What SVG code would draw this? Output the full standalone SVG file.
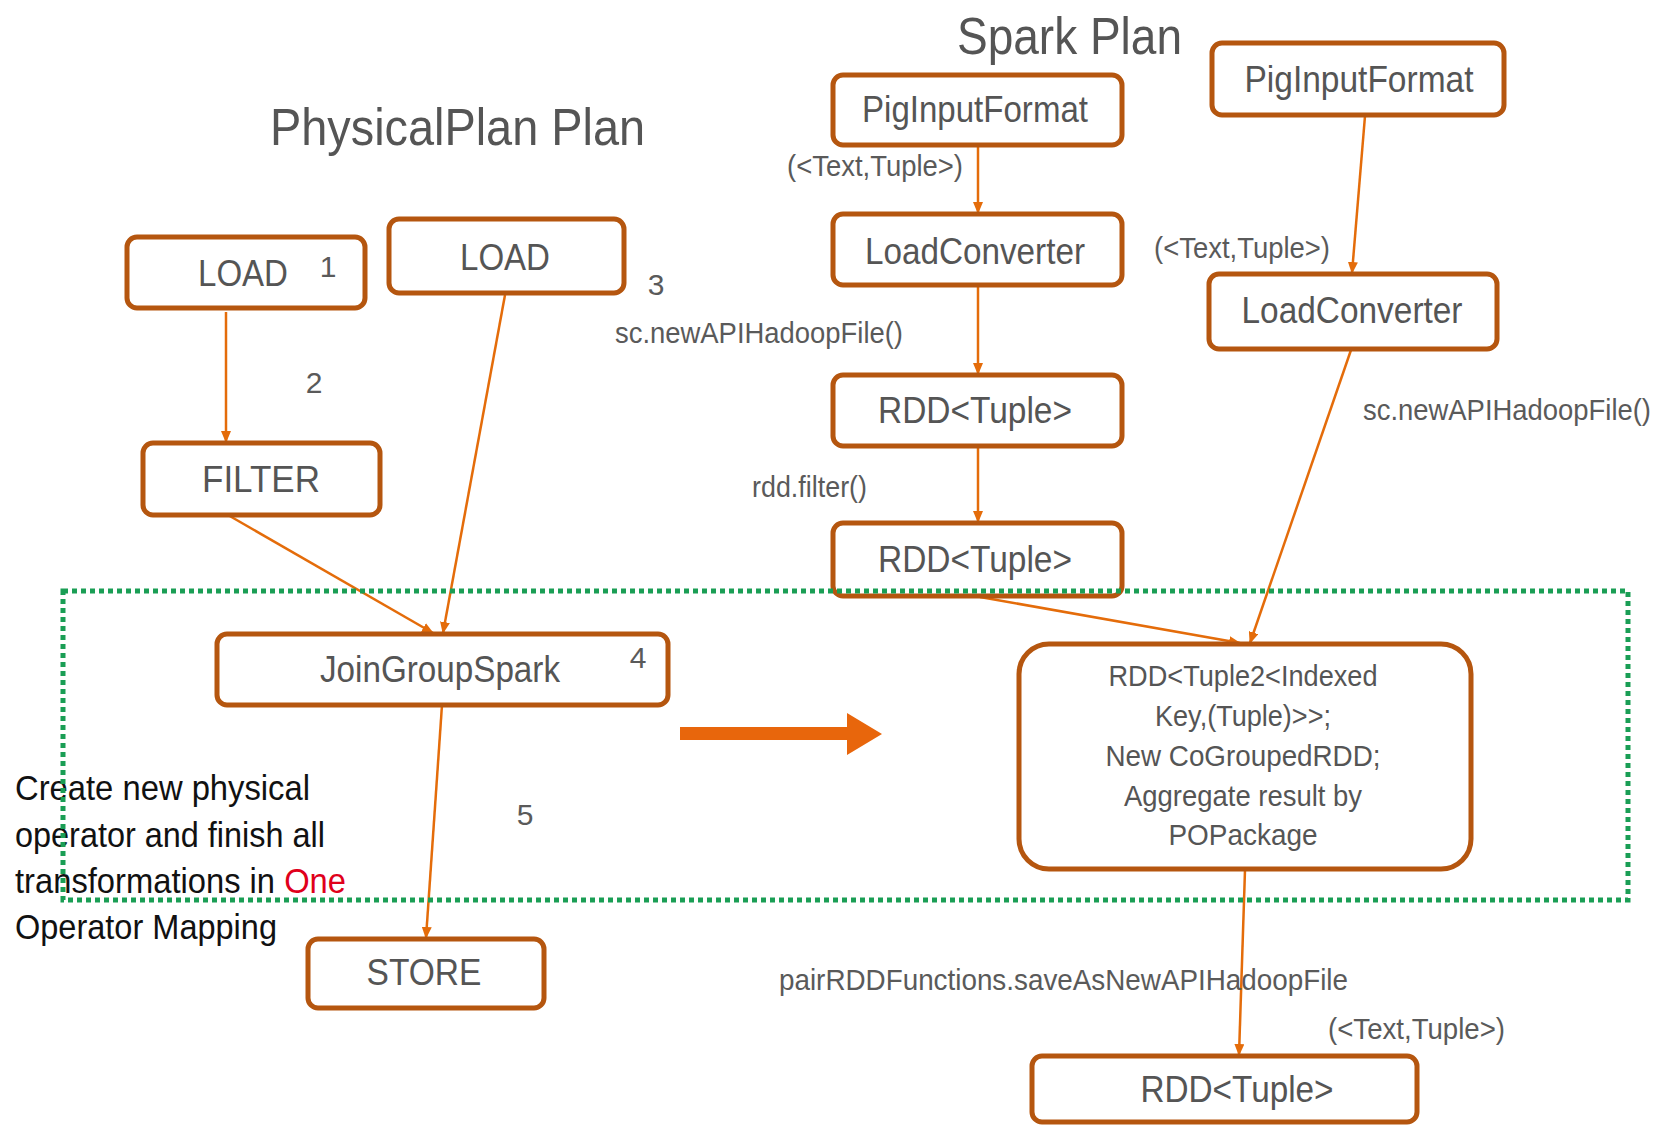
<svg xmlns="http://www.w3.org/2000/svg" width="1658" height="1125" viewBox="0 0 1658 1125">
  <defs>
    <marker id="arr" viewBox="0 0 12 10" refX="11" refY="5" markerWidth="12" markerHeight="10" markerUnits="userSpaceOnUse" orient="auto">
      <path d="M0,0 L12,5 L0,10 z" fill="#e46c0a"/>
    </marker>
    <style>
      text { font-family: "Liberation Sans", Arial, sans-serif; }
      .box { fill: #ffffff; stroke: #b5560f; stroke-width: 5; }
      .lbl { fill: #555555; font-size: 36px; text-anchor: middle; }
      .note { fill: #5a5a5a; font-size: 30px; }
      .num { fill: #5a5a5a; font-size: 30px; text-anchor: middle; }
      .title { fill: #555555; font-size: 52px; }
      .big { fill: #555555; font-size: 29px; text-anchor: middle; }
      .edge { stroke: #e46c0a; stroke-width: 2.5; fill: none; marker-end: url(#arr); }
      .desc { fill: #111111; font-size: 35px; }
    </style>
  </defs>
  <rect width="1658" height="1125" fill="#ffffff"/>

  <!-- titles -->
  <text class="title" x="270" y="145" textLength="375" lengthAdjust="spacingAndGlyphs">PhysicalPlan Plan</text>
  <text class="title" x="957" y="54" font-size="50" textLength="225" lengthAdjust="spacingAndGlyphs">Spark Plan</text>

  <!-- connectors -->
  <g id="connectors">
    <line class="edge" x1="226" y1="312" x2="226" y2="442"/>
    <line class="edge" x1="228" y1="515" x2="433" y2="633"/>
    <line class="edge" x1="505" y1="295" x2="443" y2="633"/>
    <line class="edge" x1="442" y1="705" x2="426" y2="938"/>
    <line class="edge" x1="978" y1="146" x2="978" y2="213"/>
    <line class="edge" x1="978" y1="287" x2="978" y2="374"/>
    <line class="edge" x1="978" y1="448" x2="978" y2="522"/>
    <line class="edge" x1="1365" y1="116" x2="1352" y2="273"/>
    <line class="edge" x1="1351" y1="350" x2="1250" y2="643"/>
    <line class="edge" x1="980" y1="597" x2="1240" y2="643"/>
    <line class="edge" x1="1245" y1="870" x2="1239" y2="1055"/>
    <!-- plan-to-plan mapping arrow -->
    <polygon points="680,727 847,727 847,713 882,734 847,755 847,740 680,740" fill="#e8660c"/>
  </g>

  <!-- physical plan nodes -->
  <g id="load1">
    <rect class="box" x="127" y="237" width="238" height="71" rx="10"/>
    <text class="lbl" x="243" y="286" font-size="38" textLength="90" lengthAdjust="spacingAndGlyphs">LOAD</text>
  </g>
  <g id="load2">
    <rect class="box" x="389" y="219" width="235" height="74" rx="10"/>
    <text class="lbl" x="505" y="270" font-size="38" textLength="90" lengthAdjust="spacingAndGlyphs">LOAD</text>
  </g>
  <g id="filter">
    <rect class="box" x="143" y="443" width="237" height="72" rx="10"/>
    <text class="lbl" x="261" y="492" font-size="38" textLength="118" lengthAdjust="spacingAndGlyphs">FILTER</text>
  </g>
  <g id="joingroupspark">
    <rect class="box" x="217" y="634" width="451" height="71" rx="10"/>
    <text class="lbl" x="440" y="682" textLength="240" lengthAdjust="spacingAndGlyphs">JoinGroupSpark</text>
  </g>
  <g id="store">
    <rect class="box" x="308" y="939" width="236" height="69" rx="10"/>
    <text class="lbl" x="424" y="985" font-size="38" textLength="115" lengthAdjust="spacingAndGlyphs">STORE</text>
  </g>

  <!-- spark plan nodes -->
  <g id="piginput1">
    <rect class="box" x="833" y="75" width="289" height="70" rx="10"/>
    <text class="lbl" x="975" y="122" font-size="35" textLength="226" lengthAdjust="spacingAndGlyphs">PigInputFormat</text>
  </g>
  <g id="loadconv1">
    <rect class="box" x="833" y="214" width="289" height="71" rx="10"/>
    <text class="lbl" x="975" y="264" font-size="35" textLength="220" lengthAdjust="spacingAndGlyphs">LoadConverter</text>
  </g>
  <g id="rdd1">
    <rect class="box" x="833" y="375" width="289" height="71" rx="10"/>
    <text class="lbl" x="975" y="423" font-size="35" textLength="194" lengthAdjust="spacingAndGlyphs">RDD&lt;Tuple&gt;</text>
  </g>
  <g id="rdd2">
    <rect class="box" x="833" y="523" width="289" height="73" rx="10"/>
    <text class="lbl" x="975" y="572" font-size="35" textLength="194" lengthAdjust="spacingAndGlyphs">RDD&lt;Tuple&gt;</text>
  </g>
  <g id="piginput2">
    <rect class="box" x="1212" y="43" width="292" height="72" rx="10"/>
    <text class="lbl" x="1359" y="92" font-size="35" textLength="229" lengthAdjust="spacingAndGlyphs">PigInputFormat</text>
  </g>
  <g id="loadconv2">
    <rect class="box" x="1209" y="274" width="288" height="75" rx="10"/>
    <text class="lbl" x="1352" y="323" font-size="35" textLength="221" lengthAdjust="spacingAndGlyphs">LoadConverter</text>
  </g>
  <g id="cogrouped">
    <rect class="box" x="1019" y="644" width="452" height="225" rx="30"/>
    <text class="big" x="1243" y="686" textLength="269" lengthAdjust="spacingAndGlyphs">RDD&lt;Tuple2&lt;Indexed</text>
    <text class="big" x="1243" y="726" textLength="176" lengthAdjust="spacingAndGlyphs">Key,(Tuple)&gt;&gt;;</text>
    <text class="big" x="1243" y="766" textLength="275" lengthAdjust="spacingAndGlyphs">New CoGroupedRDD;</text>
    <text class="big" x="1243" y="806" textLength="238" lengthAdjust="spacingAndGlyphs">Aggregate result by</text>
    <text class="big" x="1243" y="845" textLength="149" lengthAdjust="spacingAndGlyphs">POPackage</text>
  </g>
  <g id="rdd3">
    <rect class="box" x="1032" y="1056" width="385" height="66" rx="10"/>
    <text class="lbl" x="1237" y="1102" font-size="35" textLength="193" lengthAdjust="spacingAndGlyphs">RDD&lt;Tuple&gt;</text>
  </g>

  <!-- step numbers and edge notes -->
  <g id="notes">
    <text class="num" x="328" y="277">1</text>
    <text class="num" x="314" y="393">2</text>
    <text class="num" x="656" y="295">3</text>
    <text class="num" x="638" y="668">4</text>
    <text class="num" x="525" y="825">5</text>
    <text class="note" x="787" y="176" textLength="176" lengthAdjust="spacingAndGlyphs">(&lt;Text,Tuple&gt;)</text>
    <text class="note" x="1154" y="258" textLength="176" lengthAdjust="spacingAndGlyphs">(&lt;Text,Tuple&gt;)</text>
    <text class="note" x="1328" y="1039" textLength="177" lengthAdjust="spacingAndGlyphs">(&lt;Text,Tuple&gt;)</text>
    <text class="note" x="615" y="343" textLength="288" lengthAdjust="spacingAndGlyphs">sc.newAPIHadoopFile()</text>
    <text class="note" x="1363" y="420" textLength="288" lengthAdjust="spacingAndGlyphs">sc.newAPIHadoopFile()</text>
    <text class="note" x="752" y="497" textLength="115" lengthAdjust="spacingAndGlyphs">rdd.filter()</text>
    <text class="note" x="779" y="990" textLength="569" lengthAdjust="spacingAndGlyphs">pairRDDFunctions.saveAsNewAPIHadoopFile</text>
  </g>

  <!-- explanation -->
  <g id="description">
    <text class="desc" x="15" y="800" textLength="295" lengthAdjust="spacingAndGlyphs">Create new physical</text>
    <text class="desc" x="15" y="847" textLength="310" lengthAdjust="spacingAndGlyphs">operator and finish all</text>
    <text class="desc" x="15" y="893" textLength="331" lengthAdjust="spacingAndGlyphs">transformations in <tspan fill="#e0001b">One</tspan></text>
    <text class="desc" x="15" y="939" textLength="262" lengthAdjust="spacingAndGlyphs">Operator Mapping</text>
  </g>

  <!-- dotted frame around the single-operator mapping -->
  <rect id="mapping-frame" x="63" y="591" width="1565" height="309" fill="none" stroke="#1a9e55" stroke-width="5" stroke-dasharray="5 4"/>
</svg>
